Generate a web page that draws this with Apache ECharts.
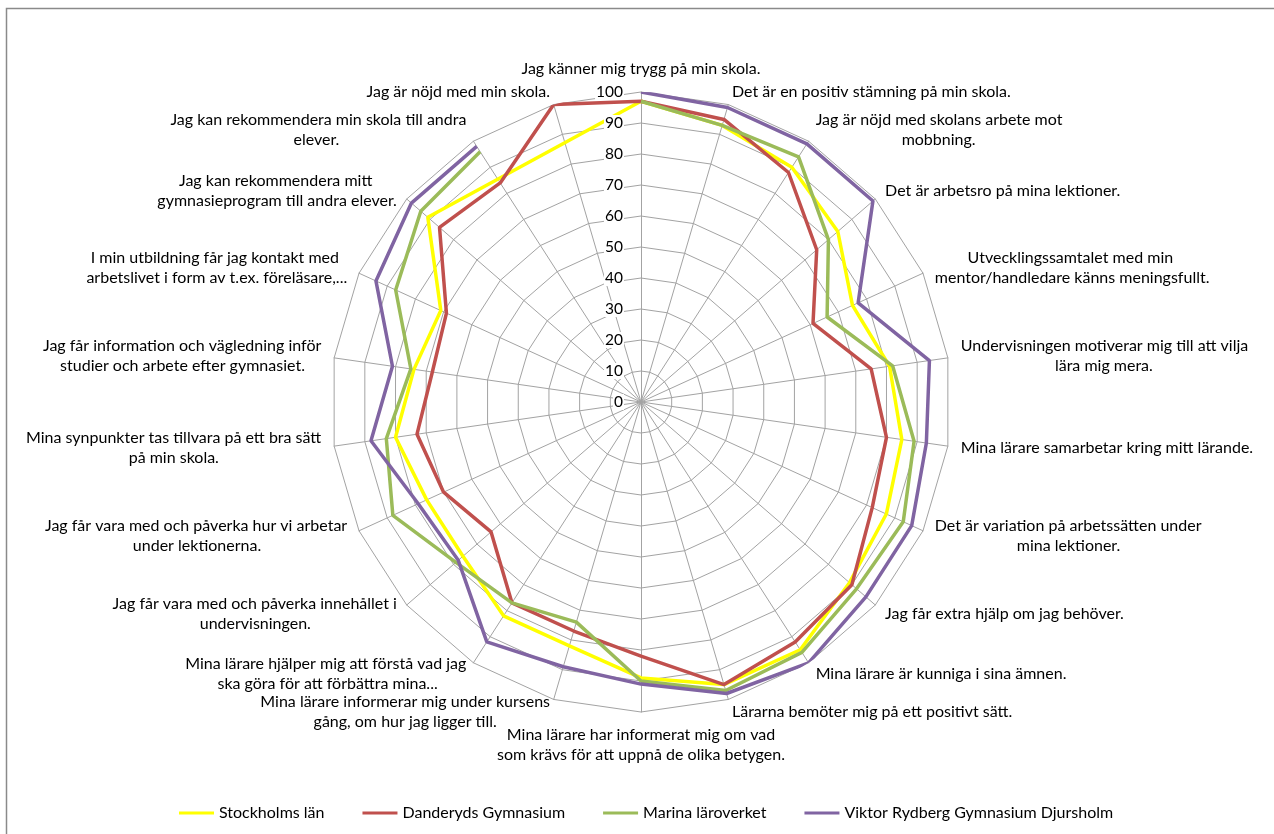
<!DOCTYPE html>
<html>
<head>
<meta charset="utf-8">
<script src="https://cdn.jsdelivr.net/npm/echarts@6/dist/echarts.min.js"></script>
<style>
  html, body { margin: 0; padding: 0; background: #fff; }
  #chart { width: 1274px; height: 834px; }
</style>
</head>
<body>
<div id="chart"></div>
<script>
// questions in clockwise order, starting at the top
const questions = [
  'Jag känner mig trygg på min skola.',
  'Det är en positiv stämning på min skola.',
  'Jag är nöjd med skolans arbete mot\nmobbning.',
  'Det är arbetsro på mina lektioner.',
  'Utvecklingssamtalet med min\nmentor/handledare känns meningsfullt.',
  'Undervisningen motiverar mig till att vilja\nlära mig mera.',
  'Mina lärare samarbetar kring mitt lärande.',
  'Det är variation på arbetssätten under\nmina lektioner.',
  'Jag får extra hjälp om jag behöver.',
  'Mina lärare är kunniga i sina ämnen.',
  'Lärarna bemöter mig på ett positivt sätt.',
  'Mina lärare har informerat mig om vad\nsom krävs för att uppnå de olika betygen.',
  'Mina lärare informerar mig under kursens\ngång, om hur jag ligger till.',
  'Mina lärare hjälper mig att förstå vad jag\nska göra för att förbättra mina...',
  'Jag får vara med och påverka innehållet i\nundervisningen.',
  'Jag får vara med och påverka hur vi arbetar\nunder lektionerna.',
  'Mina synpunkter tas tillvara på ett bra sätt\npå min skola.',
  'Jag får information och vägledning inför\nstudier och arbete efter gymnasiet.',
  'I min utbildning får jag kontakt med\narbetslivet i form av t.ex. föreläsare,...',
  'Jag kan rekommendera mitt\ngymnasieprogram till andra elever.',
  'Jag kan rekommendera min skola till andra\nelever.',
  'Jag är nöjd med min skola.'
];

const seriesNames = ['Stockholms län', 'Danderyds Gymnasium', 'Marina läroverket', 'Viktor Rydberg Gymnasium Djursholm'];

const stockholm = [97, 93, 90, 84, 75, 81, 85, 87, 89, 95, 95, 89, 82, 82, 76, 76, 80, 74, 71, 91, null, null];
const danderyd  = [97, 95, 88, 75, 61, 75, 80, 82, 90, 92, 95, 82, 77, 77, 64, 70, 73, 68, 69, 86, 84, 100];
const marina    = [97, 93, 94, 80, 66, 82, 89, 93, 92, 96, 97, 90, 74, 77, 79, 88, 83, 75, 87, 94, 96, null];
const viktor    = [100, 99, 99, 99, 77, 94, 93, 96, 96, 100, 98, 91, 89, 92, 78, 79, 88, 81, 94, 98, 98, null];

const colors = ['#FFFF00', '#C0504D', '#9BBB59', '#8064A2'];

const n = questions.length;
const font = 'Lato';
const nameSize = 16;

// pad the shorter lines with spaces so wrapped names come out centred, like Excel does
const ctx = document.createElement('canvas').getContext('2d');
ctx.font = nameSize + 'px ' + font;
const centreLines = text => {
  const lines = text.split('\n');
  if (lines.length < 2) return text;
  const widths = lines.map(l => ctx.measureText(l).width);
  const maxW = Math.max(...widths);
  const sp = ctx.measureText(' ').width;
  return lines.map((l, i) => {
    const pad = ' '.repeat(Math.round((maxW - widths[i]) / 2 / sp));
    return pad + l + pad;
  }).join('\n');
};

// echarts radar runs counter-clockwise, so feed the indicators reversed
const indicators = questions.map((q, i) => ({ name: centreLines(questions[(n - i) % n]), min: 0, max: 100 }));

// [radius, angleIndex], closed back to the first question
const toPolar = vals => vals.concat([vals[0]]).map((v, i) => [v == null ? '-' : v, i]);

const chart = echarts.init(document.getElementById('chart'));

chart.setOption({
  backgroundColor: '#fff',
  animation: false,
  color: colors,
  graphic: [{
    type: 'rect',
    shape: { x: 6.5, y: 8.5, width: 1300, height: 900 },
    style: { fill: 'none', stroke: '#8a8a8a', lineWidth: 1.5 },
    silent: true
  }],
  legend: {
    bottom: 8,
    left: 174,
    icon: 'rect',
    itemWidth: 35,
    itemHeight: 3,
    itemGap: 38,
    textStyle: { fontFamily: font, fontSize: 16, color: '#000', padding: [0, 0, 0, 0] },
    data: seriesNames
  },
  radar: {
    center: [641, 402],
    radius: 310,
    startAngle: 90,
    splitNumber: 10,
    shape: 'polygon',
    indicator: indicators,
    axisName: { color: '#000', fontFamily: font, fontSize: nameSize, lineHeight: 20 },
    nameGap: 13,
    axisLine: { lineStyle: { color: '#a3a3a3', width: 1 } },
    splitLine: { lineStyle: { color: '#a3a3a3', width: 1 } },
    splitArea: { show: false },
    axisTick: { show: false },
    axisLabel: { show: false }
  },
  polar: {
    center: [641, 402],
    radius: 310
  },
  angleAxis: {
    type: 'value',
    min: 0,
    max: n,
    startAngle: 90,
    clockwise: true,
    show: false
  },
  radiusAxis: {
    type: 'value',
    min: 0,
    max: 100,
    interval: 10,
    axisLine: { show: false },
    axisTick: { show: false },
    axisLabel: {
      color: '#000', fontFamily: font, fontSize: 15.5, margin: 17,
      backgroundColor: '#fff', padding: [0, 1]
    },
    splitLine: { show: false },
    z: 5
  },
  series: [
    { name: seriesNames[0], type: 'line', coordinateSystem: 'polar', data: toPolar(stockholm), connectNulls: true },
    { name: seriesNames[1], type: 'line', coordinateSystem: 'polar', data: toPolar(danderyd) },
    { name: seriesNames[2], type: 'line', coordinateSystem: 'polar', data: toPolar(marina) },
    { name: seriesNames[3], type: 'line', coordinateSystem: 'polar', data: toPolar(viktor) }
  ].map(s => Object.assign(s, {
    symbol: 'none',
    showSymbol: false,
    lineStyle: { width: 3.5 },
    z: 3
  }))
});
</script>
</body>
</html>
